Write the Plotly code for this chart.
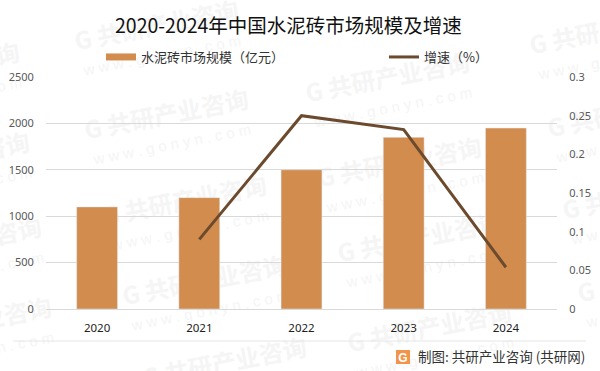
import plotly.graph_objects as go

years = ["2020", "2021", "2022", "2023", "2024"]
market = [1100, 1200, 1500, 1850, 1950]
growth = [None, 0.09, 0.25, 0.232, 0.054]
left_ticks = [0, 500, 1000, 1500, 2000, 2500]
right_ticks = [0, 0.05, 0.1, 0.15, 0.2, 0.25, 0.3]
right_labels = ["0", "0.05", "0.1", "0.15", "0.2", "0.25", "0.3"]

W, H = 600, 371
L, R, T, B = 46, 557, 77, 309
FONT = "Noto Sans CJK SC"
TICK = "#595959"


def px(x):
    return (x - L) / (R - L)


def py(y):
    return (B - y) / (B - T)


# Watermark stamp centres (pixels)
stamps = [(157, 28), (167, 117), (388, 80), (612, 32), (-62, 70), (-52, 160), (630, 115),
          (185, 203), (-40, 245), (-30, 325), (205, 283), (225, 365), (420, 240), (430, 330),
          (645, 197), (660, 280), (400, 165)]

fig = go.Figure()
fig.add_bar(x=years, y=market, name="水泥砖市场规模（亿元）", marker_color="#D18C4E",
            width=0.4, yaxis="y", showlegend=False)
fig.add_scatter(x=[years[0]], y=[None], name="水泥砖市场规模（亿元）", mode="lines",
                line=dict(color="#D18C4E", width=7), yaxis="y", legend="legend")
fig.add_scatter(x=years, y=growth, name="增速（%）", mode="lines",
                line=dict(color="#6B4A2E", width=3), yaxis="y2", legend="legend2")

shapes = []
for sx, sy in stamps:
    shapes.append(dict(type="rect", xref="paper", yref="paper", layer="below",
                       x0=px(sx - 100), x1=px(sx + 100), y0=py(sy + 15), y1=py(sy - 15),
                       line=dict(width=0), fillcolor="rgba(0,0,0,0)",
                       label=dict(text="<b>G 共研产业咨询</b>", textangle=-11, textposition="middle center",
                                  font=dict(size=24, color="#F5F5F5", family=FONT))))
    shapes.append(dict(type="rect", xref="paper", yref="paper", layer="below",
                       x0=px(sx - 95), x1=px(sx + 105), y0=py(sy + 41), y1=py(sy + 11),
                       line=dict(width=0), fillcolor="rgba(0,0,0,0)",
                       label=dict(text="w w w . g o n y n . c o m", textangle=-11,
                                  textposition="middle center",
                                  font=dict(size=15, color="#F5F5F5", family="Liberation Sans"))))
shapes.append(dict(type="line", xref="paper", yref="paper", x0=px(13), x1=px(586),
                   y0=py(341), y1=py(341), line=dict(color="#E6E6E6", width=1)))
shapes.append(dict(type="rect", xref="paper", yref="paper", x0=px(396), x1=px(410),
                   y0=py(364), y1=py(350), line=dict(width=0), fillcolor="#F2944A",
                   label=dict(text="<b>G</b>", textposition="middle center",
                              font=dict(size=12, color="white", family="Liberation Sans"))))

ann = [
    dict(x=px(288), y=py(24), xref="paper", yref="paper", xanchor="center", yanchor="middle",
         text="2020-2024年中国水泥砖市场规模及增速",
         showarrow=False, font=dict(size=19.5, color="#111111", family=FONT)),
    dict(x=px(587), y=py(356), xref="paper", yref="paper", xanchor="right", yanchor="middle",
         text="制图: 共研产业咨询 (共研网)", showarrow=False,
         font=dict(size=13.5, color="#333333", family=FONT)),
]

legend_common = dict(orientation="h", xref="container", xanchor="left", y=1 - 57 / H, yref="container",
                     yanchor="middle", font=dict(size=13, color="#333333"), bgcolor="rgba(0,0,0,0)",
                     itemwidth=30)

fig.update_layout(
    width=W, height=H, autosize=False, paper_bgcolor="white", plot_bgcolor="rgba(0,0,0,0)",
    margin=dict(l=L, r=W - R, t=T, b=H - B, autoexpand=False),
    font=dict(family=FONT, color=TICK, size=12),
    bargap=0.6,
    showlegend=True,
    legend=dict(x=101 / W, **legend_common),
    legend2=dict(x=384 / W, **legend_common),
    xaxis=dict(type="category", showgrid=False, showline=True, linecolor="#D9D9D9", ticks="outside",
               ticklen=8, tickcolor="rgba(0,0,0,0)",
               tickfont=dict(size=11.5, color="#222222", family="Noto Sans")),
    yaxis=dict(range=[0, 2500], tickvals=left_ticks, gridcolor="#D9D9D9", gridwidth=1, zeroline=False,
               tickfont=dict(size=11, color=TICK, family="Noto Sans"), ticks="outside", ticklen=9,
               tickcolor="rgba(0,0,0,0)"),
    yaxis2=dict(range=[0, 0.3], tickvals=right_ticks, ticktext=right_labels, overlaying="y", side="right",
                showgrid=False, zeroline=False,
                tickfont=dict(size=11, color=TICK, family="Noto Sans"), ticks="outside", ticklen=9,
                tickcolor="rgba(0,0,0,0)"),
    annotations=ann,
    shapes=shapes,
)
fig.write_html("out.html", config=dict(displayModeBar=False),
               post_script="document.body.style.margin='0';")
